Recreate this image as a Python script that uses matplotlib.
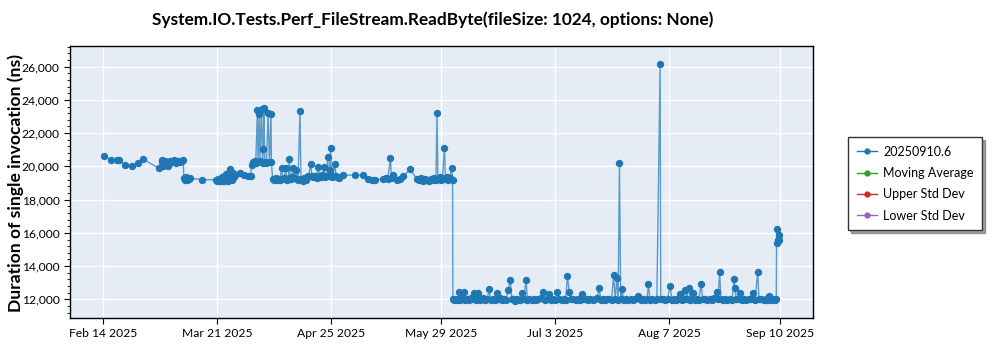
import numpy as np
import pandas as pd
import matplotlib
matplotlib.use("Agg")
import matplotlib.pyplot as plt
import matplotlib.dates as mdates
from matplotlib.ticker import FuncFormatter, MultipleLocator
from matplotlib.lines import Line2D

plt.rcParams['font.family'] = ['Lato', 'DejaVu Sans']

start = pd.Timestamp('2025-02-14')

# days since Feb 14 2025 / duration in ns  (before the drop)
high_days = [0.2, 2.3, 4.1, 4.8, 6.6, 8.8, 10.8, 12.3, 17.1,
             18.0, 18.2, 18.5, 19.0, 19.4, 19.9, 20.5, 21.1, 21.7, 22.4, 23.0, 23.6, 24.2, 24.6,
             24.8, 25.1, 25.4, 25.9, 26.4, 26.7, 30.3,
             34.7, 35.0, 35.3, 35.6, 35.9, 36.3, 36.5, 36.8, 37.1, 37.4, 37.7, 38.0, 38.3, 38.7,
             39.0, 39.3, 39.6, 39.9, 40.2, 40.5, 42.0, 43.3, 44.6, 45.3,
             45.6, 46.0, 46.6, 46.9, 47.4, 47.6, 48.0, 48.2, 48.7, 49.0, 49.2, 49.4, 49.7, 50.2,
             50.7, 51.1, 51.6, 51.7,
             52.1, 52.5, 53.0, 53.4, 53.9, 54.3, 54.9, 55.1, 55.6, 56.1, 56.5, 57.0, 57.2, 57.6,
             58.0, 58.4, 58.8, 59.3, 59.6, 59.9, 60.5, 60.8, 61.3, 61.7, 62.2, 62.6, 63.1, 63.8,
             64.2, 64.6, 65.1, 65.6, 66.1, 66.5, 66.9, 67.4, 67.9, 68.2, 68.7, 69.0, 69.3, 69.6,
             69.9, 70.2, 70.6, 71.2, 71.6, 72.0, 72.5, 73.8, 77.4, 79.8, 81.4, 82.5, 83.5,
             86.0, 86.9, 87.5, 88.3, 88.6, 89.2, 90.2, 91.2, 92.3, 94.3,
             96.4, 97.1, 97.7, 98.3, 98.9, 99.5, 100.1, 100.7, 101.4, 101.8, 102.3, 102.6, 102.9,
             103.4, 103.8, 104.3, 104.9, 105.2, 105.7, 106.1, 106.6, 107.1, 107.4]
high_ns = [20620, 20410, 20400, 20400, 20110, 20030, 20190, 20430, 19890,
           20250, 20380, 20050, 20350, 20200, 20000, 20300, 20250, 20400, 20200, 20300, 20250, 20350, 20400,
           19300, 19180, 19350, 19200, 19250, 19300, 19200,
           19200, 19100, 19250, 19150, 19100, 19200, 19350, 19150, 19100, 19300, 19550, 19200, 19100, 19400,
           19850, 19300, 19200, 19600, 19350, 19500, 19630, 19500, 19450, 19450,
           20060, 20250, 20300, 20200, 23370, 20250, 23170, 20300, 23470, 20200, 21070, 23510, 20250, 20200,
           23230, 20250, 23170, 20260,
           19270, 19200, 19300, 19180, 19250, 19200, 19900, 19250, 19300, 19900, 19200, 19300, 20470, 19250,
           19350, 19900, 19300, 19800, 19250, 19200, 23310, 19250, 19150, 19300, 19200, 19350, 19400, 20130,
           19400, 19350, 19450, 19300, 19990, 19400, 19350, 19500, 19950, 19350, 19400, 20550, 19450, 19800,
           21130, 19350, 19450, 20130, 19400, 19350, 19300, 19470, 19470, 19470, 19250, 19170, 19170,
           19250, 19300, 19250, 20500, 19300, 19500, 19200, 19270, 19400, 19830,
           19250, 19200, 19300, 19100, 19250, 19200, 19150, 19250, 19200, 19300, 19200, 23230, 19250,
           19350, 19200, 19300, 21130, 19250, 19350, 19200, 19300, 19930, 19200]

# after the drop
low_days = [107.5, 107.9, 108.3, 108.8, 109.2, 109.5, 109.8, 110.3, 110.9, 111.3, 111.8, 112.4, 113.0,
            113.5, 114.0, 114.5, 115.0, 115.3, 115.7, 116.3, 116.9, 117.5, 118.1, 118.6, 119.1, 119.7,
            120.3, 121.0, 121.5, 122.1, 122.7, 123.3, 123.9, 124.5, 125.2, 125.6, 126.1, 126.7, 127.3,
            128.0, 128.7, 129.3, 130.0, 130.4, 131.0, 131.7, 132.4, 133.1, 133.8, 134.6, 135.3, 135.9,
            136.5, 137.1, 137.7, 138.4, 139.0, 139.6, 140.2, 140.9, 141.6, 142.2, 142.7, 143.3, 143.8,
            144.5, 145.2, 145.9, 146.5, 147.1, 147.7, 148.4, 149.1, 149.8, 150.5, 151.2, 151.8, 152.4,
            153.0, 153.7, 154.3, 155.0, 155.6, 156.3, 156.9, 157.4, 157.9, 158.3, 158.7, 159.1, 159.5,
            160.0, 160.7, 161.4, 162.1, 162.8, 163.5, 164.5, 165.2, 165.9, 166.6, 167.2, 167.6, 168.1,
            168.8, 169.5, 170.2, 171.2, 171.4, 172.0, 172.7, 173.5, 174.3, 174.8, 175.4, 176.0, 176.7,
            177.3, 177.8, 178.4, 178.9, 179.4, 180.0, 180.5, 181.0, 181.4, 181.9, 182.5, 183.1, 183.8,
            184.3, 185.0, 185.7, 186.4, 187.1, 187.8, 188.6, 189.0, 189.5, 189.9, 190.5, 191.2, 191.9,
            192.6, 193.3, 194.0, 194.2, 194.6, 195.2, 195.8, 196.3, 197.0, 197.7, 198.4, 199.2, 199.9,
            200.4, 201.2, 201.6, 202.3, 203.0, 203.6, 204.2, 204.8, 205.3, 205.9, 206.5, 206.9,
            207.0, 207.1, 207.3, 207.6, 207.9]
low_ns = [12000, 11950, 12050, 11980, 12020, 12420, 11970, 12060, 12450, 11990, 12030, 11960, 12080,
          12000, 12360, 11980, 12040, 12390, 11950, 12020, 12070, 11990, 12040, 12600, 11980, 12030,
          11960, 12390, 12010, 12060, 11980, 12020, 11970, 12560, 13160, 12000, 12050, 11930, 12010,
          11960, 12360, 12000, 13160, 11970, 12040, 11990, 12030, 11950, 12010, 12060, 12420, 11980,
          12020, 12300, 11960, 12040, 11990, 12450, 12010, 11950, 12030, 11980, 13400, 12420, 12000,
          12050, 11970, 12020, 11960, 12300, 12010, 12040, 11980, 12030, 11960, 12010, 12080, 12660,
          11990, 12030, 11960, 12020, 12050, 11980, 13460, 12000, 13260, 11990, 20190, 12020, 12600,
          11970, 12040, 11980, 12030, 11960, 12010, 12200, 11990, 12030, 11970, 12010, 12900, 11980,
          12030, 11990, 12020, 26130, 12000, 12040, 11980, 12030, 12820, 11990, 12050, 11960, 12020,
          12300, 11990, 12050, 12540, 12020, 12690, 11980, 12030, 12360, 11960, 12040, 11990, 12920,
          12000, 12050, 11970, 12030, 11990, 12060, 12450, 12000, 13660, 12010, 11970, 12040, 11990,
          12030, 11960, 13220, 12660, 12010, 12050, 12390, 11990, 12030, 11970, 12010, 12040, 12390,
          11990, 13660, 12000, 12040, 11970, 12020, 11990, 12200, 11990, 12030, 11960, 12000,
          15360, 16240, 15600, 15860, 15560]

series_name = '20250910.6'
legend_labels = [series_name, 'Moving Average', 'Upper Std Dev', 'Lower Std Dev']
legend_colors = ['#1f77b4', '#2ca02c', '#d62728', '#9467bd']
tick_dates = ['2025-02-14', '2025-03-21', '2025-04-25', '2025-05-29', '2025-07-03', '2025-08-07', '2025-09-10']

days = np.array(high_days + low_days)
vals = np.array(high_ns + low_ns)
dates = start + pd.to_timedelta(days, unit='D')

fig = plt.figure(figsize=(10, 3.5), dpi=100)
ax = fig.add_axes([0.07, 0.0914, 0.743, 0.7772])
ax.set_facecolor('#e5ecf6')

ax.plot(dates, vals, color='#1f77b4', linewidth=1.0, alpha=0.7, zorder=2)
ax.plot(dates, vals, linestyle='none', marker='o', markersize=4.3, color='#1f77b4', zorder=3)

ax.set_xlim(start - pd.Timedelta(days=10.2), start + pd.Timedelta(days=218.2))
ax.set_ylim(10877, 27243)

ax.set_xticks(pd.to_datetime(tick_dates))
ax.xaxis.set_major_formatter(mdates.DateFormatter('%b %-d %Y'))
ax.yaxis.set_major_locator(MultipleLocator(2000))
ax.yaxis.set_minor_locator(MultipleLocator(400))
ax.yaxis.set_major_formatter(FuncFormatter(lambda v, p: f'{int(v):,}'))
ax.tick_params(axis='both', labelsize=8.7, colors='black')
ax.tick_params(axis='y', which='major', length=4)
ax.tick_params(axis='y', which='minor', length=2)
ax.tick_params(axis='x', length=4)

ax.grid(True, color='white', linewidth=1.0)
ax.set_axisbelow(True)
for s in ax.spines.values():
    s.set_color('black')
    s.set_linewidth(1.0)

# y label placed by hand so it stays inside the figure
fig.text(0.016, 0.477, 'Duration of single invocation (ns)', rotation=90,
         ha='center', va='center', fontsize=12.6, fontweight='bold')
fig.text(0.4325, 0.945, 'System.IO.Tests.Perf_FileStream.ReadByte(fileSize: 1024, options: None)',
         ha='center', va='center', fontsize=12.4, fontweight='bold')

handles = [Line2D([0], [0], color=c, marker='o', markersize=3.5, linewidth=1.0) for c in legend_colors]
leg = fig.legend(handles, legend_labels, loc='upper left', bbox_to_anchor=(0.848, 0.609),
                 borderaxespad=0, fontsize=9, frameon=True, fancybox=False, shadow=True,
                 edgecolor='#333333', handlelength=1.6, handletextpad=0.5,
                 labelspacing=0.75, borderpad=0.7)
leg.get_frame().set_linewidth(1.0)

fig.savefig('out.png', dpi=100)
